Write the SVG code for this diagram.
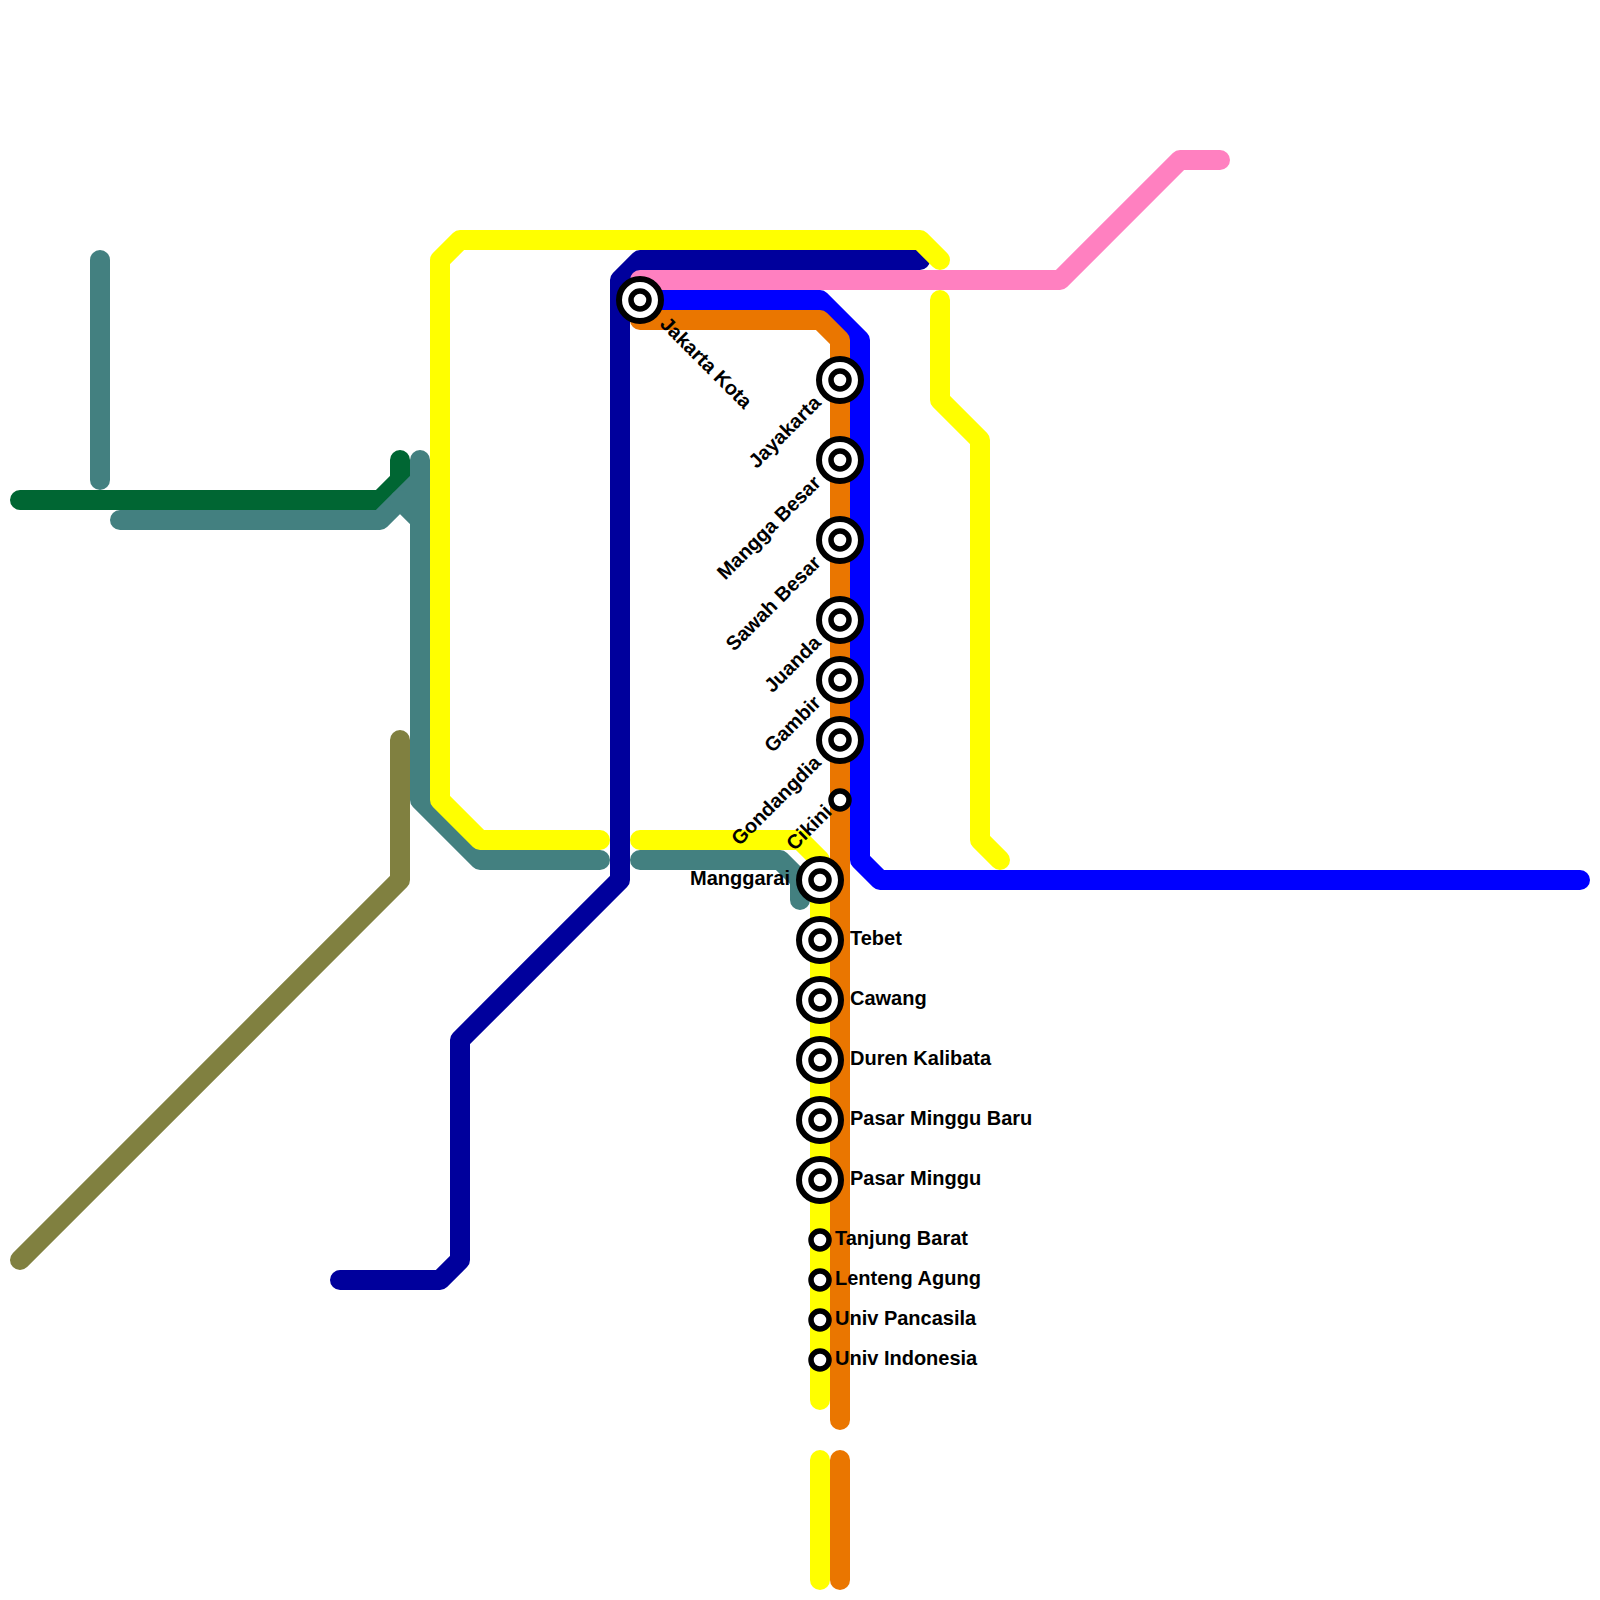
<svg xmlns="http://www.w3.org/2000/svg" width="1600" height="1600" viewBox="0 0 1600 1600">
<style>
.l{fill:none;stroke-width:20;stroke-linecap:round;stroke-linejoin:round}
.y{stroke:#ffff00}.n{stroke:#00009c}.p{stroke:#ff80c0}.b{stroke:#0000ff}.o{stroke:#ea7600}.t{stroke:#438080}.g{stroke:#006633}.v{stroke:#808040}
.r{fill:#fff;stroke:#000;stroke-width:6}
.i{fill:#fff;stroke:#000;stroke-width:5.5}
text{font-family:"Liberation Sans",Arial,sans-serif;font-weight:bold;font-size:20px;fill:#000}
.e{text-anchor:end}
</style>
<rect width="1600" height="1600" fill="#fff"/>
<g id="connectors">
<path class="l v" d="M20 1260L400 880V740"/>
<path class="l g" d="M20 500H380L400 480V460"/>
<path class="l t" d="M100 260V480"/>
<path class="l t" d="M120 520H380L420 480"/>
<path class="l t" d="M400 500L420 520"/>
<path class="l t" d="M420 460V800L480 860H600"/>
<path class="l n" d="M340 1280H440L460 1260V1040L620 880V280L640 260H920"/>
<path class="l y" d="M600 840H480L440 800V260L460 240H920L940 260"/>
<path class="l y" d="M940 300V400L980 440V840L1000 860"/>
<path class="l y" d="M640 840H800L820 860V1400"/>
<path class="l y" d="M820 1460V1580"/>
<path class="l t" d="M640 860H780L800 880V900"/>
<path class="l p" d="M640 280H1060L1180 160H1220"/>
<path class="l b" d="M640 300H820L860 340V860L880 880H1580"/>
<path class="l o" d="M640 320H820L840 340V1420"/>
<path class="l o" d="M840 1460V1580"/>
</g>
<g id="jakarta-kota"><circle class="r" cx="640" cy="300" r="21"/><circle class="i" cx="640" cy="300" r="9"/><text transform="translate(659 325) rotate(45)">Jakarta Kota</text></g>
<g id="jayakarta"><circle class="r" cx="840" cy="380" r="21"/><circle class="i" cx="840" cy="380" r="9"/><text class="e" transform="translate(822 404) rotate(-45)">Jayakarta</text></g>
<g id="mangga-besar"><circle class="r" cx="840" cy="460" r="21"/><circle class="i" cx="840" cy="460" r="9"/><text class="e" transform="translate(822 484) rotate(-45)">Mangga Besar</text></g>
<g id="sawah-besar"><circle class="r" cx="840" cy="540" r="21"/><circle class="i" cx="840" cy="540" r="9"/><text class="e" transform="translate(822 564) rotate(-45)">Sawah Besar</text></g>
<g id="juanda"><circle class="r" cx="840" cy="620" r="21"/><circle class="i" cx="840" cy="620" r="9"/><text class="e" transform="translate(822 644) rotate(-45)">Juanda</text></g>
<g id="gambir"><circle class="r" cx="840" cy="680" r="21"/><circle class="i" cx="840" cy="680" r="9"/><text class="e" transform="translate(822 704) rotate(-45)">Gambir</text></g>
<g id="gondangdia"><circle class="r" cx="840" cy="740" r="21"/><circle class="i" cx="840" cy="740" r="9"/><text class="e" transform="translate(822 764) rotate(-45)">Gondangdia</text></g>
<g id="cikini"><circle class="i" cx="840" cy="800" r="9"/><text class="e" transform="translate(833 813) rotate(-45)">Cikini</text></g>
<g id="manggarai"><circle class="r" cx="820" cy="880" r="21"/><circle class="i" cx="820" cy="880" r="9"/><text class="e" x="790" y="884.5">Manggarai</text></g>
<g id="tebet"><circle class="r" cx="820" cy="940" r="21"/><circle class="i" cx="820" cy="940" r="9"/><text x="850" y="944.5">Tebet</text></g>
<g id="cawang"><circle class="r" cx="820" cy="1000" r="21"/><circle class="i" cx="820" cy="1000" r="9"/><text x="850" y="1004.5">Cawang</text></g>
<g id="duren-kalibata"><circle class="r" cx="820" cy="1060" r="21"/><circle class="i" cx="820" cy="1060" r="9"/><text x="850" y="1064.5">Duren Kalibata</text></g>
<g id="pasar-minggu-baru"><circle class="r" cx="820" cy="1120" r="21"/><circle class="i" cx="820" cy="1120" r="9"/><text x="850" y="1124.5">Pasar Minggu Baru</text></g>
<g id="pasar-minggu"><circle class="r" cx="820" cy="1180" r="21"/><circle class="i" cx="820" cy="1180" r="9"/><text x="850" y="1184.5">Pasar Minggu</text></g>
<g id="tanjung-barat"><circle class="i" cx="820" cy="1240" r="9"/><text x="835" y="1244.5">Tanjung Barat</text></g>
<g id="lenteng-agung"><circle class="i" cx="820" cy="1280" r="9"/><text x="835" y="1284.5">Lenteng Agung</text></g>
<g id="univ-pancasila"><circle class="i" cx="820" cy="1320" r="9"/><text x="835" y="1324.5">Univ Pancasila</text></g>
<g id="univ-indonesia"><circle class="i" cx="820" cy="1360" r="9"/><text x="835" y="1364.5">Univ Indonesia</text></g>
</svg>
